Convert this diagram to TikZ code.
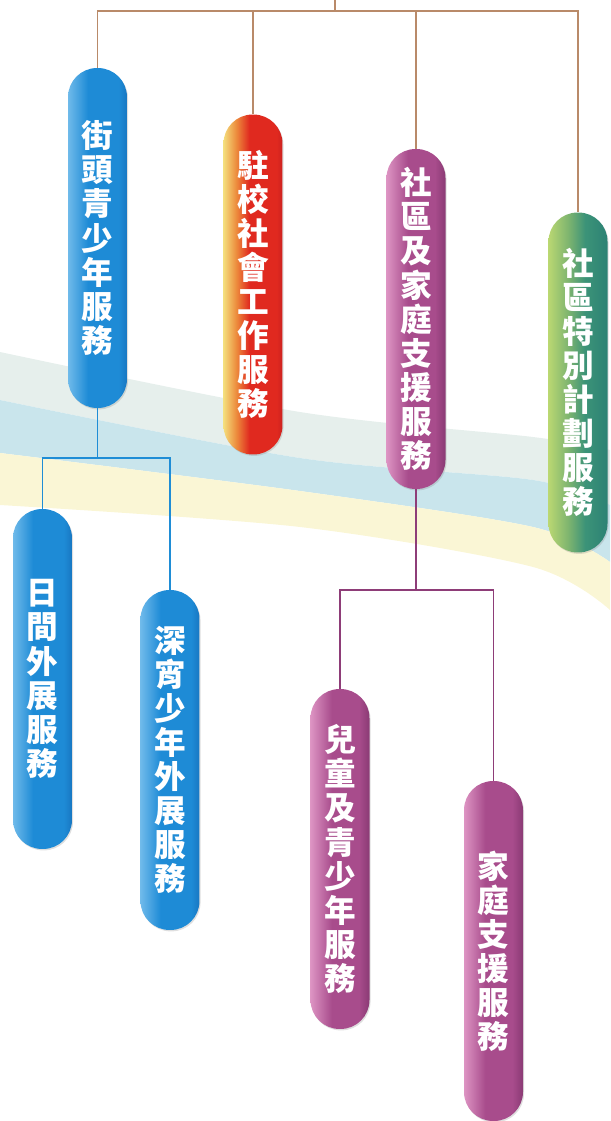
\documentclass[tikz,border=0pt]{standalone}
\usepackage{fontspec}
\newfontfamily\cjk{Noto Sans CJK TC}
\usetikzlibrary{shadows}

\definecolor{trunkbrown}{HTML}{B98A69}
\definecolor{wireblue}{HTML}{1F8DD6}
\definecolor{wirepurple}{HTML}{8E3D78}
\definecolor{bandgray}{HTML}{E6EFEC}
\definecolor{bandblue}{HTML}{C9E5EC}
\definecolor{bandyellow}{HTML}{FAF6D5}

\definecolor{blueA}{HTML}{6FBAEA}
\definecolor{blueB}{HTML}{1E8BD6}
\definecolor{blueC}{HTML}{1877C2}
\definecolor{redA}{HTML}{F4DE7C}
\definecolor{redB}{HTML}{EC8A3C}
\definecolor{redC}{HTML}{E0291F}
\definecolor{redD}{HTML}{CC2220}
\definecolor{plumA}{HTML}{DD94C3}
\definecolor{plumB}{HTML}{A84C8C}
\definecolor{plumC}{HTML}{8A3A74}
\definecolor{greenA}{HTML}{B9D772}
\definecolor{greenB}{HTML}{7DB46F}
\definecolor{greenC}{HTML}{3C9378}
\definecolor{greenD}{HTML}{2C8274}

\pgfdeclarehorizontalshading{pillblue}{100bp}{color(0bp)=(blueA); color(25bp)=(blueA); color(42bp)=(blueB); color(68bp)=(blueB); color(75bp)=(blueC); color(100bp)=(blueC)}
\pgfdeclarehorizontalshading{pillred}{100bp}{color(0bp)=(redA); color(25bp)=(redA); color(36bp)=(redB); color(47bp)=(redC); color(70bp)=(redC); color(75bp)=(redD); color(100bp)=(redD)}
\pgfdeclarehorizontalshading{pillplum}{100bp}{color(0bp)=(plumA); color(25bp)=(plumA); color(43bp)=(plumB); color(66bp)=(plumB); color(75bp)=(plumC); color(100bp)=(plumC)}
\pgfdeclarehorizontalshading{pillgreen}{100bp}{color(0bp)=(greenA); color(25bp)=(greenA); color(42bp)=(greenB); color(56bp)=(greenC); color(75bp)=(greenD); color(100bp)=(greenD)}

\begin{document}
\begin{tikzpicture}[x=0.02cm, y=-0.02cm,
    pill/.style={minimum width=1.18cm, minimum height=6.8cm, rounded corners=0.58cm,
      inner sep=0pt, align=center, text=white,
      font=\cjk\bfseries\fontsize{18}{19.4}\selectfont,
      drop shadow={opacity=.25, shadow xshift=.6pt, shadow yshift=-.8pt}},
    trunk/.style={draw=trunkbrown, line width=1.1pt},
    bluewire/.style={draw=wireblue, line width=1.1pt},
    plumwire/.style={draw=wirepurple, line width=1.1pt}]

  \useasboundingbox (0,0) rectangle (610,1121);

  % ribbon in the background
  \fill[bandgray] plot[smooth] coordinates {(0,352) (300,412) (533,437) (610,450)}
    -- plot[smooth] coordinates {(610,505) (533,480) (300,458) (0,400)} -- cycle;
  \fill[bandblue] plot[smooth] coordinates {(0,400) (300,458) (533,480) (610,505)}
    -- plot[smooth] coordinates {(610,562) (533,527) (300,491) (0,453)} -- cycle;
  \fill[bandyellow] plot[smooth] coordinates {(0,453) (300,491) (533,527) (610,562)}
    -- plot[smooth] coordinates {(610,610) (533,567) (300,527) (0,505)} -- cycle;

  % first row
  \node[pill, shading=pillblue] (street) at (97.5,238) {街\\頭\\青\\少\\年\\服\\務};
  \node[pill, shading=pillred] (school) at (253,284.5) {駐\\校\\社\\會\\工\\作\\服\\務};
  \node[pill, shading=pillplum] (family) at (416,319) {社\\區\\及\\家\\庭\\支\\援\\服\\務};
  \node[pill, shading=pillgreen] (special) at (578,382.5) {社\\區\\特\\別\\計\\劃\\服\\務};

  % second row
  \node[pill, shading=pillblue] (day) at (42.5,679) {日\\間\\外\\展\\服\\務};
  \node[pill, shading=pillblue] (night) at (170,760) {深\\宵\\少\\年\\外\\展\\服\\務};
  \node[pill, shading=pillplum] (child) at (340,859) {兒\\童\\及\\青\\少\\年\\服\\務};
  \node[pill, shading=pillplum] (homecare) at (493.5,951) {家\\庭\\支\\援\\服\\務};

  \coordinate (root) at (335,0);
  \coordinate (hub) at (335,11);
  \coordinate (sfork) at (97.5,458);
  \coordinate (cfork) at (416,590);

  \draw[trunk] (root) -- (hub);
  \draw[trunk] (street.north) |- (hub) -| (special.north);
  \draw[trunk] (school.north) -- (school.north |- hub);
  \draw[trunk] (family.north) -- (family.north |- hub);

  \draw[bluewire] (street.south) -- (sfork);
  \draw[bluewire] (day.north) |- (sfork) -| (night.north);

  \draw[plumwire] (family.south) -- (cfork);
  \draw[plumwire] (child.north) |- (cfork) -| (homecare.north);

\end{tikzpicture}
\end{document}
